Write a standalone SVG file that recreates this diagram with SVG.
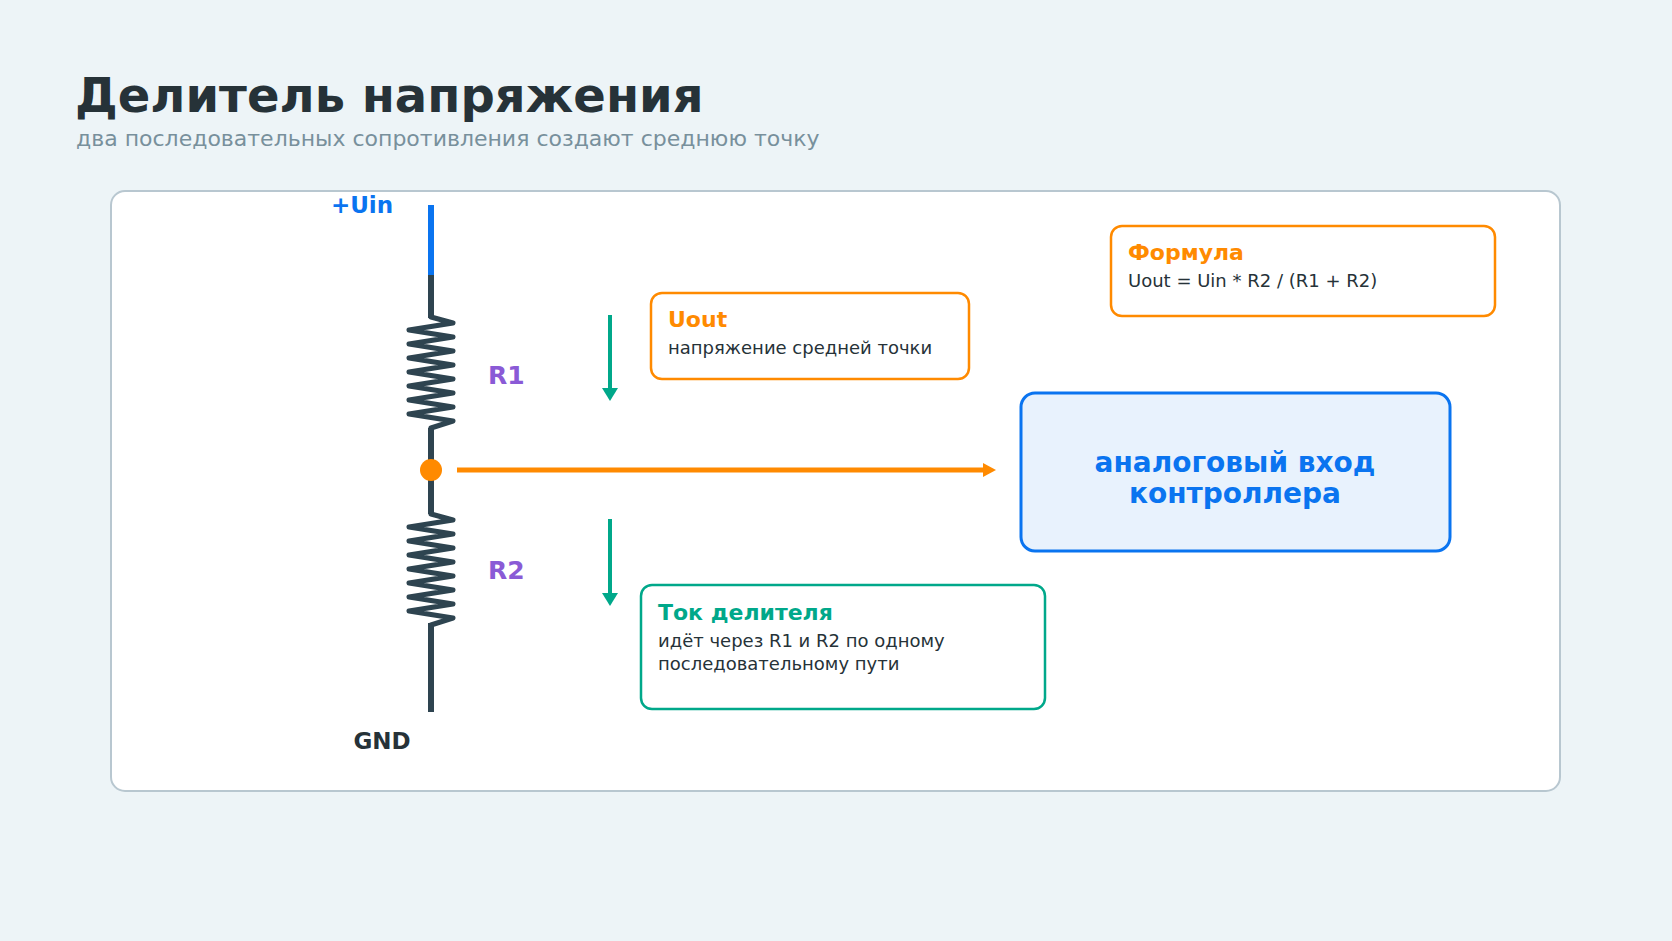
<svg xmlns="http://www.w3.org/2000/svg" width="1672" height="941" viewBox="0 0 1672 941">
<style>
text{font-family:"DejaVu Sans","Noto Sans",sans-serif}
.t{font-weight:bold;font-size:22px}
.b{font-size:18px;fill:#263238}
.res{fill:none;stroke:#2e4450;stroke-width:5;stroke-linejoin:round;stroke-linecap:round}
.lbl{font-weight:bold;font-size:25px;fill:#8a5ad6}
</style>
<rect width="1672" height="941" fill="#edf4f7"/>
<text x="75" y="112" font-size="48" font-weight="bold" fill="#263238">Делитель напряжения</text>
<text x="76" y="146" font-size="22" fill="#78909c">два последовательных сопротивления создают среднюю точку</text>
<rect x="111" y="191" width="1449" height="600" rx="14" fill="#fff" stroke="#b8c7d0" stroke-width="2"/>
<g id="connectors">
<line x1="431" y1="205" x2="431" y2="276" stroke="#0a74f0" stroke-width="6"/>
<line x1="431" y1="275" x2="431" y2="318" stroke="#2e4450" stroke-width="6"/>
<line x1="431" y1="428" x2="431" y2="469" stroke="#2e4450" stroke-width="6"/>
<line x1="431" y1="469" x2="431" y2="514" stroke="#2e4450" stroke-width="6"/>
<line x1="431" y1="623" x2="431" y2="712" stroke="#2e4450" stroke-width="6"/>
<line x1="457" y1="470" x2="985" y2="470" stroke="#ff8a00" stroke-width="5"/>
<path d="M983,463 L996,470 L983,477z" fill="#ff8a00"/>
<line x1="610" y1="315" x2="610" y2="393" stroke="#00a88a" stroke-width="4"/>
<path d="M602,388 L618,388 L610,401z" fill="#00a88a"/>
<line x1="610" y1="519" x2="610" y2="598" stroke="#00a88a" stroke-width="4"/>
<path d="M602,593 L618,593 L610,606z" fill="#00a88a"/>
</g>
<g id="R1">
<polyline class="res" points="431,317 453,323 409,330 453,337 409,344 453,351 409,358 453,365 409,372 453,379 409,386 453,393 409,400 453,407 409,414 453,421 431,428"/>
<text class="lbl" x="488" y="384">R1</text>
</g>
<g id="R2">
<polyline class="res" transform="translate(0,197)" points="431,317 453,323 409,330 453,337 409,344 453,351 409,358 453,365 409,372 453,379 409,386 453,393 409,400 453,407 409,414 453,421 431,428"/>
<text class="lbl" x="488" y="579">R2</text>
</g>
<g id="node"><circle cx="431" cy="470" r="11" fill="#ff8a00"/></g>
<g id="uin"><text x="362" y="213" text-anchor="middle" font-size="23" font-weight="bold" fill="#0a74f0">+Uin</text></g>
<g id="gnd"><text x="382" y="749" text-anchor="middle" font-size="23" font-weight="bold" fill="#263238">GND</text></g>
<g id="uout">
<rect x="651" y="293" width="318" height="86" rx="11" fill="#fff" stroke="#ff8a00" stroke-width="2.5"/>
<text class="t" x="668" y="327" fill="#ff8a00">Uout</text>
<text class="b" x="668" y="354">напряжение средней точки</text>
</g>
<g id="formula">
<rect x="1111" y="226" width="384" height="90" rx="11" fill="#fff" stroke="#ff8a00" stroke-width="2.5"/>
<text class="t" x="1128" y="260" fill="#ff8a00">Формула</text>
<text class="b" x="1128" y="287">Uout = Uin * R2 / (R1 + R2)</text>
</g>
<g id="controller">
<rect x="1021" y="393" width="429" height="158" rx="14" fill="#e8f2fd" stroke="#0a74f0" stroke-width="3"/>
<text x="1235" y="472" text-anchor="middle" font-size="28" font-weight="bold" fill="#0a74f0">аналоговый вход</text>
<text x="1235" y="503" text-anchor="middle" font-size="28" font-weight="bold" fill="#0a74f0">контроллера</text>
</g>
<g id="current">
<rect x="641" y="585" width="404" height="124" rx="11" fill="#fff" stroke="#00a88a" stroke-width="2.5"/>
<text class="t" x="658" y="620" fill="#00a88a">Ток делителя</text>
<text class="b" x="658" y="647">идёт через R1 и R2 по одному</text>
<text class="b" x="658" y="670">последовательному пути</text>
</g>
</svg>
